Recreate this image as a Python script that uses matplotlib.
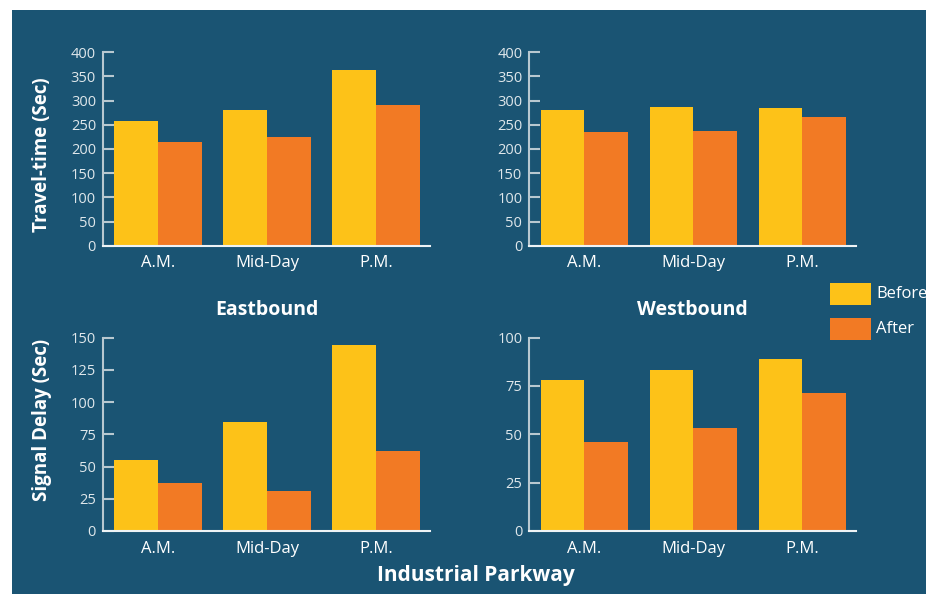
import matplotlib
matplotlib.use("Agg")
import matplotlib.pyplot as plt
import numpy as np
from matplotlib.patches import Rectangle

plt.rcParams['font.family'] = ['Open Sans', 'DejaVu Sans']

categories = ["A.M.", "Mid-Day", "P.M."]
series = ["Before", "After"]

east_travel_before = [258, 281, 363]
east_travel_after = [214, 225, 291]
west_travel_before = [281, 287, 285]
west_travel_after = [235, 237, 266]
east_delay_before = [55, 84.6, 144]
east_delay_after = [37, 31, 62]
west_delay_before = [78, 83.3, 89]
west_delay_after = [46, 53.3, 71.4]

travel_ticks = [0, 50, 100, 150, 200, 250, 300, 350, 400]
east_delay_ticks = [0, 25, 50, 75, 100, 125, 150]
west_delay_ticks = [0, 25, 50, 75, 100]

BG = "#1a5473"
YEL = "#fdc218"
ORA = "#f27a24"
TICKC = "#dfe7eb"
SPINEC = "#b8c8d0"

fig = plt.figure(figsize=(9.26, 5.94), dpi=100)
fig.patch.set_facecolor("white")
fig.patches.append(Rectangle((12 / 926, 0), 1 - 12 / 926, 1 - 10 / 594,
                             transform=fig.transFigure, facecolor=BG,
                             edgecolor="none", zorder=-10))

W = 327 / 926
H = 193.4 / 594
lefts = [103 / 926, 529.3 / 926]
bottoms = [1 - 245.7 / 594, 1 - 531 / 594]

panels = [
    (0, 0, east_travel_before, east_travel_after, travel_ticks, None),
    (1, 0, west_travel_before, west_travel_after, travel_ticks, None),
    (0, 1, east_delay_before, east_delay_after, east_delay_ticks, "Eastbound"),
    (1, 1, west_delay_before, west_delay_after, west_delay_ticks, "Westbound"),
]

x = np.arange(len(categories))
bw = 0.4
for col, row, before, after, ticks, title in panels:
    ax = fig.add_axes([lefts[col], bottoms[row], W, H])
    ax.set_facecolor("none")
    ax.bar(x - bw / 2, before, width=bw, color=YEL, label=series[0], zorder=2)
    ax.bar(x + bw / 2, after, width=bw, color=ORA, label=series[1], zorder=2)
    ax.set_xlim(-0.505, 2.495)
    ax.set_ylim(ticks[0], ticks[-1])
    ax.set_yticks(ticks)
    ax.set_xticks(x)
    ax.set_xticklabels(categories, fontsize=12, color="white")
    ax.tick_params(axis='x', length=0, pad=7)
    ax.tick_params(axis='y', direction='in', length=8, width=1.5,
                   color=SPINEC, labelsize=10.5, labelcolor=TICKC, pad=5)
    for s in ["top", "right"]:
        ax.spines[s].set_visible(False)
    ax.spines["left"].set_color(SPINEC)
    ax.spines["left"].set_linewidth(1.5)
    ax.spines["bottom"].set_color("#eef3f5")
    ax.spines["bottom"].set_linewidth(1.5)
    ax.spines["bottom"].set_zorder(3)
    if title:
        ax.set_title(title, fontsize=14, fontweight="bold", color="white", pad=16)

fig.text(42 / 926, 1 - 155 / 594, "Travel-time (Sec)", rotation=90, ha="center",
         va="center", fontsize=13.5, fontweight="bold", color="white")
fig.text(42 / 926, 1 - 420 / 594, "Signal Delay (Sec)", rotation=90, ha="center",
         va="center", fontsize=13.5, fontweight="bold", color="white")
fig.text(475.5 / 926, 1 - 576 / 594, "Industrial Parkway", ha="center",
         va="center", fontsize=15, fontweight="bold", color="white")

# legend
for i, (name, c) in enumerate(zip(series, [YEL, ORA])):
    y0 = [283, 318][i]
    fig.patches.append(Rectangle((830 / 926, 1 - (y0 + 21.5) / 594), 41 / 926, 21.5 / 594,
                                 transform=fig.transFigure, facecolor=c, edgecolor="none"))
    fig.text(876 / 926, 1 - (y0 + 11) / 594, name, ha="left", va="center",
             fontsize=12, color="white")

fig.savefig("out.png", dpi=100, facecolor=fig.get_facecolor())
